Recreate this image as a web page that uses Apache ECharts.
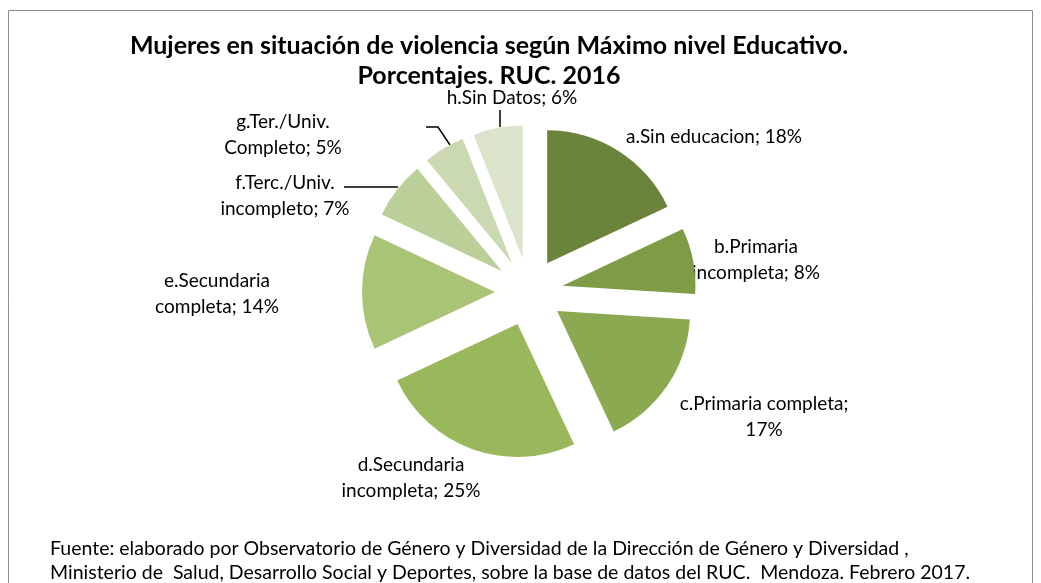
<!DOCTYPE html>
<html>
<head>
<meta charset="utf-8">
<script src="https://cdn.jsdelivr.net/npm/echarts@6/dist/echarts.min.js"></script>
<style>
html,body{margin:0;padding:0;background:#fff;}
#chart{width:1041px;height:583px;}
</style>
</head>
<body>
<div id="chart"></div>
<script>
// ---- data ----
const categories = [
  'a.Sin educacion',
  'b.Primaria\nincompleta',
  'c.Primaria completa;\n',
  'd.Secundaria\nincompleta',
  'e.Secundaria\ncompleta',
  'f.Terc./Univ.\nincompleto',
  'g.Ter./Univ.\nCompleto',
  'h.Sin Datos'
];
const values = [18, 8, 17, 25, 14, 7, 5, 6];
const colors = ['#6b843c', '#7e9b46', '#8aa950', '#99b85b', '#a8c474', '#bbd098', '#cad9b1', '#dae4cb'];

// ---- layout (label anchor centres, leader lines) ----
const PIE_CENTER = [529, 292];
const PIE_RADIUS = 133;
const EXPLODE = 34;
const LABEL_POS = [[714, 137], [756, 260], [764, 417], [411, 478], [217, 294], [285, 196], [283, 135], [512, 98]];
const LEADERS = {
  5: [[344, 187], [398, 187]],
  6: [[426, 127], [438, 127], [450, 145]],
  7: [[500, 110], [500, 127]]
};

const FONT = 'Lato, "Open Sans", sans-serif';
const LABEL_FONT = '19px ' + FONT;

function labelText(i) {
  const name = categories[i];
  if (name.endsWith(';\n')) return name + values[i] + '%';
  return name + '; ' + values[i] + '%';
}

const labelGraphics = values.map((v, i) => ({
  type: 'text',
  silent: true,
  style: {
    text: labelText(i),
    x: LABEL_POS[i][0],
    y: LABEL_POS[i][1],
    align: 'center',
    verticalAlign: 'middle',
    font: LABEL_FONT,
    lineHeight: 26,
    fill: '#000'
  }
}));
const leaderGraphics = Object.keys(LEADERS).map(k => ({
  type: 'polyline',
  silent: true,
  shape: {points: LEADERS[k]},
  style: {stroke: '#000', lineWidth: 1.5, fill: null}
}));

const chart = echarts.init(document.getElementById('chart'), null, {renderer: 'canvas'});
chart.setOption({
  animation: false,
  backgroundColor: '#ffffff',
  title: [{
    text: 'Mujeres en situación de violencia según Máximo nivel Educativo.\nPorcentajes. RUC. 2016',
    left: 489,
    top: 31,
    padding: 0,
    textAlign: 'center',
    textStyle: {fontFamily: FONT, fontSize: 25, fontWeight: 'bold', color: '#000', lineHeight: 30}
  }, {
    text: 'Fuente: elaborado por Observatorio de Género y Diversidad de la Dirección de Género y Diversidad ,\nMinisterio de  Salud, Desarrollo Social y Deportes, sobre la base de datos del RUC.  Mendoza. Febrero 2017.',
    left: 50,
    top: 537,
    padding: 0,
    textStyle: {fontFamily: FONT, fontSize: 19.5, fontWeight: 'normal', color: '#000', lineHeight: 24}
  }],
  graphic: [{
    type: 'rect',
    shape: {x: 8.5, y: 10.5, width: 1024, height: 620},
    style: {fill: 'none', stroke: '#8c8c8c', lineWidth: 1},
    silent: true,
    z: -1
  }].concat(labelGraphics, leaderGraphics),
  series: [{
    type: 'pie',
    center: PIE_CENTER,
    radius: PIE_RADIUS,
    startAngle: 90,
    clockwise: true,
    selectedMode: 'multiple',
    selectedOffset: EXPLODE,
    avoidLabelOverlap: false,
    emphasis: {disabled: true},
    select: {itemStyle: {borderWidth: 0}},
    itemStyle: {borderWidth: 0},
    label: {show: false},
    labelLine: {show: false},
    data: values.map((v, i) => ({
      value: v,
      name: categories[i],
      selected: true,
      itemStyle: {color: colors[i]},
      select: {itemStyle: {color: colors[i]}}
    }))
  }]
});
</script>
</body>
</html>
